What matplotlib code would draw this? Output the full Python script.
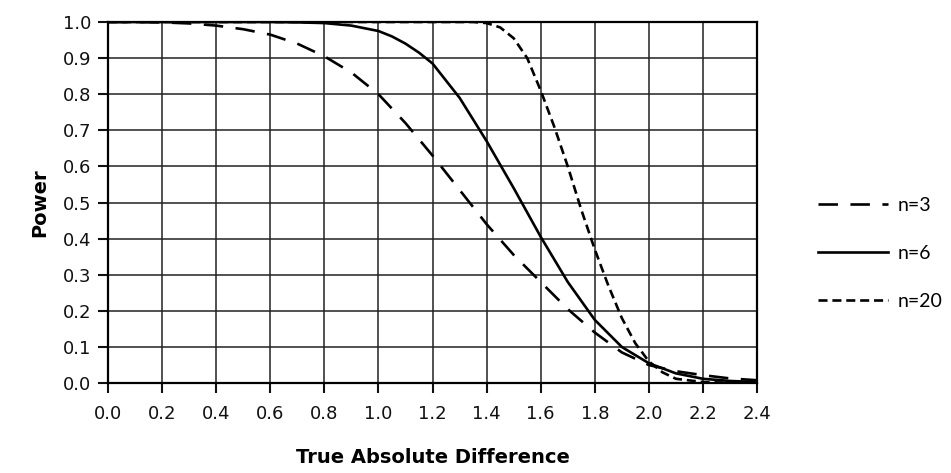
import matplotlib
matplotlib.use("Agg")
import matplotlib.pyplot as plt

# ── data ──
x_n3 = [0.0, 0.1, 0.2, 0.3, 0.4, 0.5, 0.6, 0.7, 0.8, 0.9, 1.0, 1.1, 1.2, 1.3, 1.4,
        1.5, 1.6, 1.7, 1.8, 1.9, 2.0, 2.1, 2.2, 2.3, 2.4]
y_n3 = [1.0, 1.0, 0.999, 0.996, 0.99, 0.98, 0.965, 0.94, 0.905, 0.86, 0.80, 0.72,
        0.63, 0.535, 0.44, 0.355, 0.28, 0.205, 0.14, 0.085, 0.05, 0.033, 0.022,
        0.013, 0.008]

x_n6 = [0.0, 0.2, 0.4, 0.6, 0.7, 0.8, 0.9, 1.0, 1.05, 1.1, 1.15, 1.2, 1.3, 1.4, 1.5,
        1.6, 1.7, 1.8, 1.9, 2.0, 2.1, 2.2, 2.3, 2.4]
y_n6 = [1.0, 1.0, 1.0, 1.0, 0.999, 0.997, 0.99, 0.975, 0.96, 0.94, 0.915, 0.885,
        0.79, 0.67, 0.54, 0.405, 0.28, 0.175, 0.10, 0.055, 0.027, 0.012, 0.006, 0.003]

x_n20 = [0.0, 0.4, 0.8, 1.2, 1.35, 1.4, 1.45, 1.5, 1.55, 1.6, 1.65, 1.7, 1.75, 1.8,
         1.85, 1.9, 1.95, 2.0, 2.05, 2.1, 2.2, 2.3, 2.4]
y_n20 = [1.0, 1.0, 1.0, 1.0, 1.0, 0.997, 0.985, 0.955, 0.90, 0.81, 0.71, 0.60, 0.48,
         0.37, 0.27, 0.18, 0.11, 0.06, 0.03, 0.012, 0.003, 0.001, 0.0]

x_ticks = [0.0, 0.2, 0.4, 0.6, 0.8, 1.0, 1.2, 1.4, 1.6, 1.8, 2.0, 2.2, 2.4]
y_ticks = [0.0, 0.1, 0.2, 0.3, 0.4, 0.5, 0.6, 0.7, 0.8, 0.9, 1.0]

plt.rcParams['lines.scale_dashes'] = False

fig = plt.figure(figsize=(9.51, 4.73), dpi=100)
ax = fig.add_axes([0.1136, 0.190, 0.6825, 0.7635])

ax.plot(x_n3, y_n3, color='black', lw=1.9, dashes=(14, 9), label='n=3')
ax.plot(x_n6, y_n6, color='black', lw=1.9, label='n=6')
ax.plot(x_n20, y_n20, color='black', lw=1.9, dashes=(6.5, 3.5), label='n=20')

ax.set_xlim(0, 2.4)
ax.set_ylim(0, 1.0)
ax.set_xticks(x_ticks)
ax.set_yticks(y_ticks)
ax.set_xticklabels([f"{v:.1f}" for v in x_ticks])
ax.set_yticklabels([f"{v:.1f}" for v in y_ticks])
ax.grid(True, color='#222222', lw=1.1)
ax.set_axisbelow(True)
for s in ax.spines.values():
    s.set_linewidth(1.6)
    s.set_color('black')
ax.tick_params(axis='both', direction='out', length=7, width=1.5,
               labelsize=13, colors='#111111', pad=5)
ax.tick_params(axis='x', pad=9)

ax.set_xlabel('True Absolute Difference', fontsize=14, fontweight='bold', labelpad=18)
ax.set_ylabel('Power', fontsize=14, fontweight='bold', labelpad=10)

leg = ax.legend(loc='center left', bbox_to_anchor=(1.067, 0.36), frameon=False,
                handlelength=3.6, labelspacing=1.6, handletextpad=0.5,
                prop={'family': ['Lato', 'DejaVu Sans'], 'size': 14})

fig.savefig('out.png', dpi=100)
